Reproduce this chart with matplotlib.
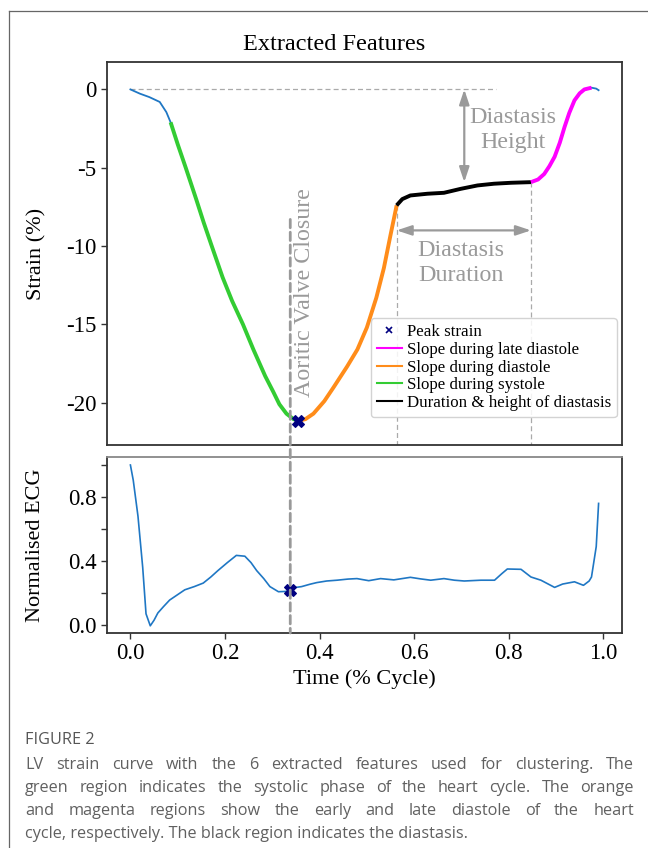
import matplotlib
matplotlib.use("Agg")
import matplotlib.pyplot as plt
from matplotlib.lines import Line2D
from matplotlib.patches import ConnectionPatch
import numpy as np

# ---------------- data ----------------
strain_t = [0.000, 0.020, 0.040, 0.062, 0.076, 0.085, 0.100, 0.117, 0.139, 0.155,
            0.172, 0.195, 0.215, 0.238, 0.260, 0.285, 0.302, 0.315, 0.330, 0.345,
            0.355, 0.370, 0.387, 0.410, 0.430, 0.458, 0.480, 0.500, 0.520, 0.536,
            0.550, 0.563, 0.575, 0.592, 0.628, 0.663, 0.698, 0.734, 0.769, 0.805,
            0.847, 0.862, 0.875, 0.886, 0.897, 0.908, 0.918, 0.928, 0.939, 0.950,
            0.960, 0.975, 0.985, 0.990]
strain_v = [0.00, -0.27, -0.49, -0.80, -1.45, -2.10, -3.50, -5.00, -7.00, -8.50,
            -10.0, -12.0, -13.5, -15.0, -16.6, -18.3, -19.3, -20.1, -20.7, -21.05,
            -21.15, -21.05, -20.7, -19.9, -19.0, -17.7, -16.6, -15.2, -13.3, -11.4,
            -9.3, -7.4, -7.0, -6.77, -6.66, -6.60, -6.35, -6.13, -6.02, -5.96,
            -5.92, -5.75, -5.40, -4.90, -4.30, -3.40, -2.40, -1.50, -0.70, -0.25,
            0.00, 0.11, 0.05, -0.05]

ecg_t = [0.000, 0.006, 0.016, 0.026, 0.033, 0.042, 0.050, 0.058, 0.070, 0.083,
         0.100, 0.115, 0.135, 0.154, 0.170, 0.185, 0.205, 0.224, 0.242, 0.255,
         0.267, 0.282, 0.295, 0.313, 0.330, 0.338, 0.350, 0.362, 0.380, 0.394,
         0.415, 0.437, 0.460, 0.479, 0.504, 0.529, 0.557, 0.592, 0.614, 0.635,
         0.663, 0.685, 0.706, 0.741, 0.770, 0.785, 0.797, 0.826, 0.847, 0.868,
         0.897, 0.914, 0.939, 0.958, 0.970, 0.975, 0.985, 0.990]
ecg_v = [1.00, 0.905, 0.68, 0.36, 0.07, -0.005, 0.03, 0.075, 0.115, 0.156,
         0.19, 0.22, 0.24, 0.262, 0.30, 0.34, 0.39, 0.435, 0.43, 0.39,
         0.34, 0.29, 0.24, 0.208, 0.21, 0.22, 0.235, 0.24, 0.255, 0.265,
         0.275, 0.28, 0.287, 0.29, 0.277, 0.29, 0.282, 0.298, 0.288, 0.28,
         0.29, 0.28, 0.275, 0.28, 0.28, 0.32, 0.35, 0.348, 0.30, 0.28,
         0.235, 0.256, 0.27, 0.248, 0.275, 0.30, 0.49, 0.76]

# feature points (time, value)
systole_start = 0.085
peak_time, peak_strain = 0.355, -21.15
avc_time, avc_ecg = 0.338, 0.22
diastasis_start, diastasis_start_val = 0.563, -7.4
diastasis_end, diastasis_end_val = 0.847, -5.92
late_end = 0.975

strain_yticks = [0, -5, -10, -15, -20]
strain_yticklabels = ["0", "-5", "-10", "-15", "-20"]
ecg_yticks = [0.0, 0.2, 0.4, 0.6, 0.8, 1.0]
ecg_yticklabels = ["0.0", "", "0.4", "", "0.8", ""]
time_ticks = [0.0, 0.2, 0.4, 0.6, 0.8, 1.0]
time_ticklabels = ["0.0", "0.2", "0.4", "0.6", "0.8", "1.0"]

legend_labels = ["Peak strain", "Slope during late diastole", "Slope during diastole",
                 "Slope during systole", "Duration & height of diastasis"]

caption_head = "FIGURE 2"
caption_lines = [
    "LV strain curve with the 6 extracted features used for clustering. The",
    "green region indicates the systolic phase of the heart cycle. The orange",
    "and magenta regions show the early and late diastole of the heart",
    "cycle, respectively. The black region indicates the diastasis.",
]

# ---------------- style ----------------
W, H = 648, 848
plt.rcParams['font.family'] = ['Liberation Serif', 'DejaVu Serif']
plt.rcParams['axes.linewidth'] = 1.3
C_BLUE = '#1f77c4'
C_GREEN = '#33cc33'
C_ORANGE = '#ff8c1a'
C_MAG = '#ff00ff'
C_GREY = '#9a9a9a'
C_NAVY = '#000080'
TICK_FS = 16.5
LABEL_FS = 16
ANNOT_FS = 17.3

fig = plt.figure(figsize=(W / 100, H / 100), dpi=100)
fig.patch.set_facecolor('white')

def fx(px):
    return px / W

def fy(py):
    return 1 - py / H

ax1 = fig.add_axes([fx(107), fy(445), fx(622) - fx(107), fy(62) - fy(445)])
ax2 = fig.add_axes([fx(107), fy(633), fx(622) - fx(107), fy(457) - fy(633)], sharex=ax1)

st = np.array(strain_t)
sv = np.array(strain_v)
XLIM = (-0.0495, 1.0395)
YLIM1 = (-22.7, 1.75)

# base strain curve
ax1.plot(st, sv, color=C_BLUE, lw=1.3, zorder=2)
m_sys = (st >= systole_start) & (st <= peak_time)
m_dia = (st >= peak_time) & (st <= diastasis_start)
m_dst = (st >= diastasis_start) & (st <= diastasis_end)
m_late = (st >= diastasis_end) & (st <= late_end)
ax1.plot(st[m_sys], sv[m_sys], color=C_GREEN, lw=2.8, zorder=3, solid_capstyle='butt')
ax1.plot(st[m_dia], sv[m_dia], color=C_ORANGE, lw=2.8, zorder=3, solid_capstyle='butt')
ax1.plot(st[m_dst], sv[m_dst], color='black', lw=2.8, zorder=3, solid_capstyle='butt')
ax1.plot(st[m_late], sv[m_late], color=C_MAG, lw=2.8, zorder=3, solid_capstyle='butt')
ax1.plot([peak_time], [peak_strain], marker='X', color=C_NAVY, ms=9, mew=0.8, zorder=5, ls='none')

# dashed reference lines
ax1.plot([0, 0.773], [0, 0], ls=(0, (4, 2.5)), color='#aaaaaa', lw=0.9, zorder=1)
ax1.plot([diastasis_start, diastasis_start], [diastasis_start_val, YLIM1[0]], ls=(0, (4, 2.5)),
         color='#aaaaaa', lw=0.9, zorder=1)
ax1.plot([diastasis_end, diastasis_end], [diastasis_end_val, YLIM1[0]], ls=(0, (4, 2.5)),
         color='#aaaaaa', lw=0.9, zorder=1)

# arrows
arrow_kw = dict(arrowstyle='<|-|>,head_length=0.9,head_width=0.3', color=C_GREY, lw=1.6,
                shrinkA=0, shrinkB=0)
ax1.annotate('', xy=(0.706, 0), xytext=(0.706, diastasis_end_val), arrowprops=arrow_kw)
ax1.annotate('', xy=(diastasis_start, -9.0), xytext=(diastasis_end, -9.0), arrowprops=arrow_kw)
ax1.text(0.809, -2.6, "Diastasis\nHeight", ha='center', va='center', fontsize=ANNOT_FS,
         color=C_GREY, linespacing=1.25)
ax1.text(0.699, -11.1, "Diastasis\nDuration", ha='center', va='center', fontsize=ANNOT_FS,
         color=C_GREY, linespacing=1.25)
ax1.text(0.369, -13.0, "Aoritic Valve Closure", rotation=90, ha='center', va='center',
         fontsize=ANNOT_FS, color=C_GREY)

ax1.set_xlim(*XLIM)
ax1.set_ylim(*YLIM1)
ax1.set_yticks(strain_yticks)
ax1.set_yticklabels(strain_yticklabels)
ax1.tick_params(axis='y', labelsize=TICK_FS, length=4, width=1, color='#333333')
ax1.tick_params(axis='x', bottom=False, labelbottom=False)
ax1.set_ylabel("Strain (%)", fontsize=LABEL_FS)
ax1.yaxis.set_label_coords(-0.117, 0.5)
for s in ax1.spines.values():
    s.set_color('#333333')

handles = [Line2D([], [], ls='none', marker='x', color=C_NAVY, ms=5, mew=1.2),
           Line2D([], [], color=C_MAG, lw=1.5),
           Line2D([], [], color=C_ORANGE, lw=1.5),
           Line2D([], [], color=C_GREEN, lw=1.5),
           Line2D([], [], color='black', lw=1.5)]
leg = ax1.legend(handles, legend_labels, loc='lower right', bbox_to_anchor=(0.99, 0.073),
                 borderaxespad=0, fontsize=12.2, labelspacing=0.1, handlelength=1.45,
                 handletextpad=0.3, borderpad=0.35, framealpha=0.85, edgecolor='#cccccc',
                 fancybox=True)

# ECG panel
ax2.plot(ecg_t, ecg_v, color=C_BLUE, lw=1.2, zorder=2)
ax2.plot([avc_time], [avc_ecg], marker='X', color=C_NAVY, ms=9, mew=0.8, zorder=5, ls='none')
ax2.set_ylim(-0.05, 1.05)
ax2.set_yticks(ecg_yticks)
ax2.set_yticklabels(ecg_yticklabels)
ax2.set_xticks(time_ticks)
ax2.set_xticklabels(time_ticklabels)
ax2.tick_params(labelsize=TICK_FS, length=4, width=1, color='#333333')
ax2.set_ylabel("Normalised ECG", fontsize=LABEL_FS)
ax2.yaxis.set_label_coords(-0.12, 0.5)
ax2.set_xlabel("Time (% Cycle)", fontsize=LABEL_FS)
ax2.xaxis.set_label_coords(0.5, -0.205)
for s in ax2.spines.values():
    s.set_color('#333333')
ax2.spines['top'].set_color('#888888')

# aortic valve closure line spanning both panels
con = ConnectionPatch(xyA=(avc_time, -8.3), coordsA=ax1.transData,
                      xyB=(avc_time, -0.05), coordsB=ax2.transData,
                      ls=(0, (3, 1.6)), color='#999999', lw=2.0, zorder=6)
fig.add_artist(con)

# title
fig.text(fx(334), fy(45), "Extracted Features", ha='center', va='center', fontsize=17.5)

# outer frame
fig.add_artist(Line2D([fx(8.5), fx(8.5)], [fy(10.5), 0], color='#666666', lw=0.9))
fig.add_artist(Line2D([fx(8.5), 1], [fy(10.5), fy(10.5)], color='#666666', lw=0.9))

# caption
cap_font = dict(family=['Open Sans', 'DejaVu Sans'], fontsize=11.7)
fig.text(fx(25), fy(744), caption_head, ha='left', va='baseline', color='#555555', **cap_font)
renderer = fig.canvas.get_renderer()
x0, x1 = 25, 634
baselines = [769, 792, 815, 838]
for i, line in enumerate(caption_lines):
    yb = fy(baselines[i])
    if i == len(caption_lines) - 1:
        fig.text(fx(x0), yb, line, ha='left', va='baseline', color='#606060', **cap_font)
        continue
    words = line.split(' ')
    txts = [fig.text(0, yb, w, ha='left', va='baseline', color='#606060', **cap_font) for w in words]
    widths = [t.get_window_extent(renderer).width for t in txts]
    gap = (x1 - x0 - sum(widths)) / (len(words) - 1)
    x = x0
    for t, w in zip(txts, widths):
        t.set_x(fx(x))
        x += w + gap

fig.savefig("out.png", dpi=100)
